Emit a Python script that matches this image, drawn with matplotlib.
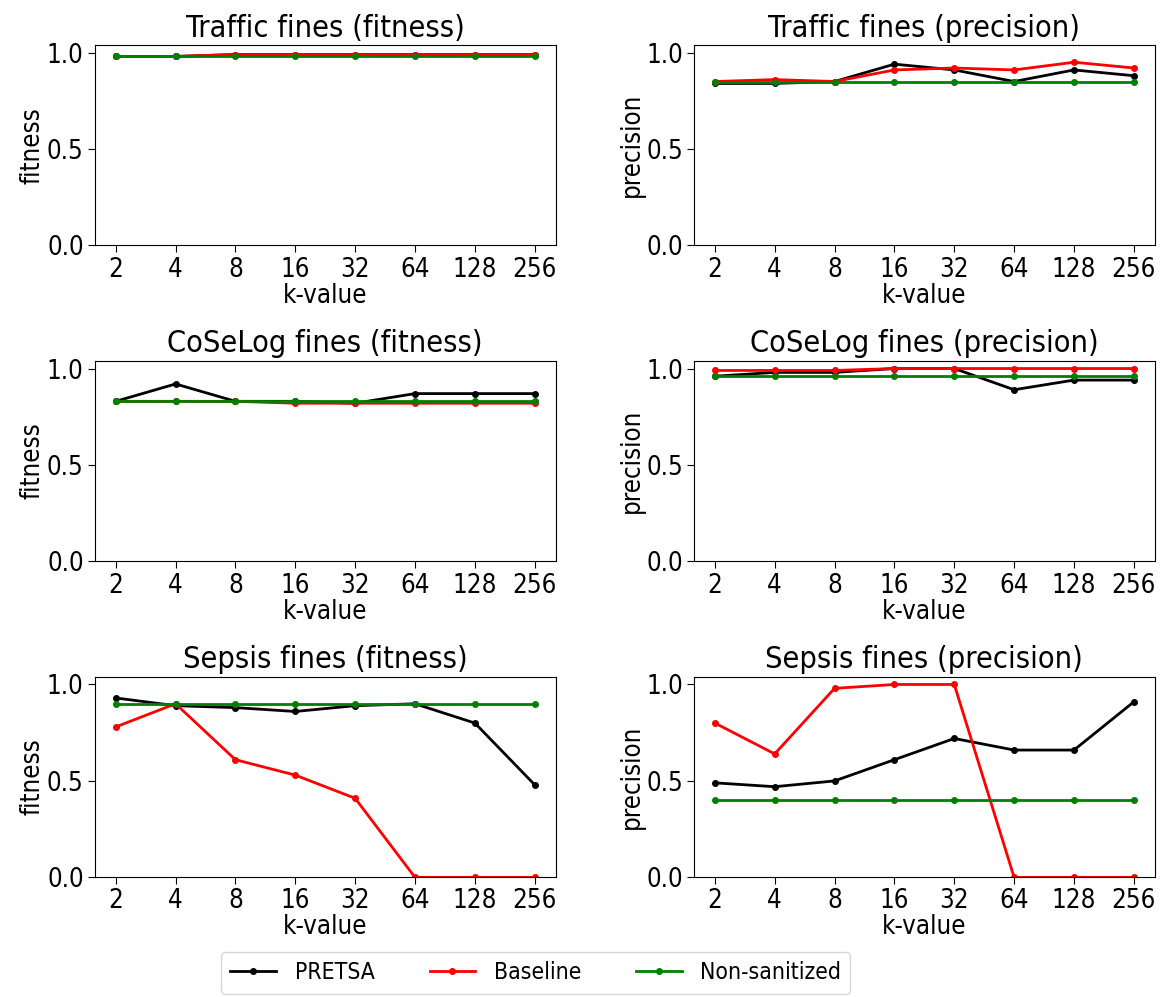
import matplotlib
matplotlib.use("Agg")
import matplotlib.pyplot as plt

plt.rcParams["font.family"] = ["DejaVu Sans"]
plt.rcParams["font.stretch"] = "condensed"

k_values = ["2", "4", "8", "16", "32", "64", "128", "256"]

# Traffic fines
traffic_fit_pretsa = [0.98, 0.98, 0.99, 0.99, 0.99, 0.99, 0.99, 0.99]
traffic_fit_baseline = [0.98, 0.98, 0.99, 0.99, 0.99, 0.99, 0.99, 0.99]
traffic_fit_nonsan = [0.98, 0.98, 0.98, 0.98, 0.98, 0.98, 0.98, 0.98]
traffic_prec_pretsa = [0.84, 0.84, 0.85, 0.94, 0.91, 0.85, 0.91, 0.88]
traffic_prec_baseline = [0.85, 0.86, 0.85, 0.91, 0.92, 0.91, 0.95, 0.92]
traffic_prec_nonsan = [0.85, 0.85, 0.85, 0.85, 0.85, 0.85, 0.85, 0.85]

# CoSeLog
coselog_fit_pretsa = [0.83, 0.92, 0.83, 0.83, 0.82, 0.87, 0.87, 0.87]
coselog_fit_baseline = [0.83, 0.83, 0.83, 0.82, 0.82, 0.82, 0.82, 0.82]
coselog_fit_nonsan = [0.83, 0.83, 0.83, 0.83, 0.83, 0.83, 0.83, 0.83]
coselog_prec_pretsa = [0.96, 0.98, 0.98, 1.0, 1.0, 0.89, 0.94, 0.94]
coselog_prec_baseline = [0.99, 0.99, 0.99, 1.0, 1.0, 1.0, 1.0, 1.0]
coselog_prec_nonsan = [0.96, 0.96, 0.96, 0.96, 0.96, 0.96, 0.96, 0.96]

# Sepsis
sepsis_fit_pretsa = [0.93, 0.89, 0.88, 0.86, 0.89, 0.90, 0.80, 0.48]
sepsis_fit_baseline = [0.78, 0.90, 0.61, 0.53, 0.41, 0.0, 0.0, 0.0]
sepsis_fit_nonsan = [0.90, 0.90, 0.90, 0.90, 0.90, 0.90, 0.90, 0.90]
sepsis_prec_pretsa = [0.49, 0.47, 0.50, 0.61, 0.72, 0.66, 0.66, 0.91]
sepsis_prec_baseline = [0.80, 0.64, 0.98, 1.0, 1.0, 0.0, 0.0, 0.0]
sepsis_prec_nonsan = [0.40, 0.40, 0.40, 0.40, 0.40, 0.40, 0.40, 0.40]

panels = [
    ("Traffic fines (fitness)", "fitness", traffic_fit_pretsa, traffic_fit_baseline, traffic_fit_nonsan),
    ("Traffic fines (precision)", "precision", traffic_prec_pretsa, traffic_prec_baseline, traffic_prec_nonsan),
    ("CoSeLog fines (fitness)", "fitness", coselog_fit_pretsa, coselog_fit_baseline, coselog_fit_nonsan),
    ("CoSeLog fines (precision)", "precision", coselog_prec_pretsa, coselog_prec_baseline, coselog_prec_nonsan),
    ("Sepsis fines (fitness)", "fitness", sepsis_fit_pretsa, sepsis_fit_baseline, sepsis_fit_nonsan),
    ("Sepsis fines (precision)", "precision", sepsis_prec_pretsa, sepsis_prec_baseline, sepsis_prec_nonsan),
]

fig, axes = plt.subplots(3, 2, figsize=(11.7, 9.97), dpi=100)
x = list(range(len(k_values)))

for ax, (title, ylabel, pretsa, baseline, nonsan) in zip(axes.flat, panels):
    ax.plot(x, pretsa, color="black", marker=".", markersize=8, linewidth=2, label="PRETSA")
    ax.plot(x, baseline, color="red", marker=".", markersize=8, linewidth=2, label="Baseline")
    ax.plot(x, nonsan, color="green", marker=".", markersize=8, linewidth=2, label="Non-sanitized")
    ax.set_title(title, fontsize=22, pad=6)
    ax.set_xlabel("k-value", fontsize=18.5, labelpad=0)
    ax.set_ylabel(ylabel, fontsize=18.5, labelpad=1)
    ax.set_xticks(x)
    ax.set_xticklabels(k_values)
    ax.set_ylim(0, 1.04)
    ax.set_yticks([0.0, 0.5, 1.0])
    ax.tick_params(labelsize=18.5, pad=3, length=5)

handles, labels = axes[0, 0].get_legend_handles_labels()
fig.legend(handles, labels, loc="lower center", ncol=3, fontsize=16.5,
           bbox_to_anchor=(0.458, -0.008), handlelength=2.0, columnspacing=2.4)

plt.subplots_adjust(left=0.081, right=0.987, top=0.955, bottom=0.12, hspace=0.575, wspace=0.3)
plt.savefig("out.png")
